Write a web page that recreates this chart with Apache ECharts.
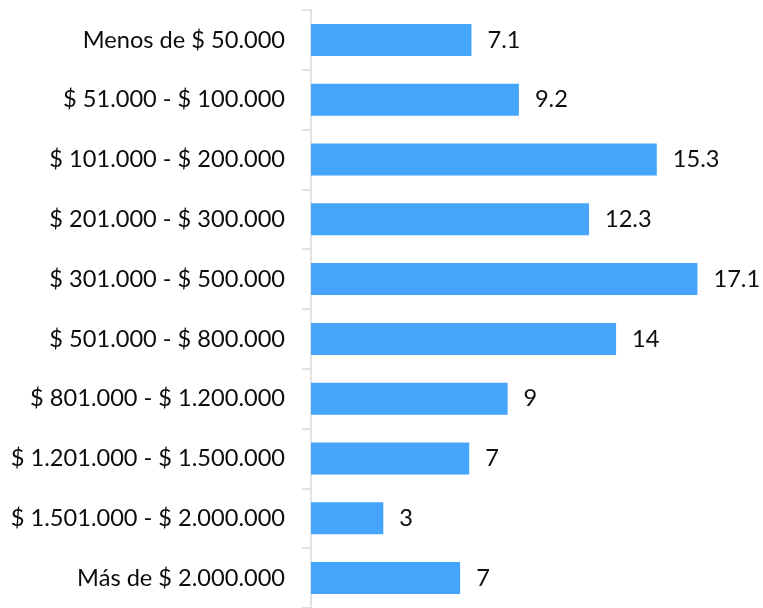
<!DOCTYPE html>
<html>
<head>
<meta charset="utf-8">
<script src="https://cdn.jsdelivr.net/npm/echarts@6/dist/echarts.min.js"></script>
<style>
  html, body { margin: 0; padding: 0; background: #fff; }
  #chart { width: 763px; height: 608px; }
</style>
</head>
<body>
<div id="chart"></div>
<script>
// categorias, de arriba hacia abajo
var categories = [
  'Menos de $ 50.000',
  '$ 51.000 - $ 100.000',
  '$ 101.000 - $ 200.000',
  '$ 201.000 - $ 300.000',
  '$ 301.000 - $ 500.000',
  '$ 501.000 - $ 800.000',
  '$ 801.000 - $ 1.200.000',
  '$ 1.201.000 - $ 1.500.000',
  '$ 1.501.000 - $ 2.000.000',
  'Más de $ 2.000.000'
];
// largo de las barras
var values = [7.1, 9.2, 15.3, 12.3, 17.1, 13.5, 8.7, 7.0, 3.2, 6.6];
// etiquetas mostradas junto a cada barra
var valueLabels = ['7.1', '9.2', '15.3', '12.3', '17.1', '14', '9', '7', '3', '7'];

var font = 'Lato, "Open Sans", sans-serif';

var myChart = echarts.init(document.getElementById('chart'), null, { renderer: 'canvas' });
myChart.setOption({
  animation: false,
  grid: { left: 311, right: 0, top: 10, bottom: -2, containLabel: false },
  xAxis: {
    type: 'value',
    min: 0,
    max: 20,
    show: false
  },
  yAxis: {
    type: 'category',
    inverse: true,
    data: categories,
    axisLine: { show: true, lineStyle: { color: '#d9d9d9', width: 1.5 } },
    axisTick: { show: true, length: 9, lineStyle: { color: '#d9d9d9', width: 1.5 } },
    axisLabel: {
      margin: 26,
      fontFamily: font,
      fontSize: 23.6,
      color: '#0d0d0d'
    }
  },
  series: [{
    type: 'bar',
    data: values,
    barWidth: 32,
    itemStyle: { color: '#45a5fb' },
    label: {
      show: true,
      position: 'right',
      distance: 16,
      fontFamily: font,
      fontSize: 23.6,
      color: '#0d0d0d',
      formatter: function (p) { return valueLabels[p.dataIndex]; }
    }
  }]
});
</script>
</body>
</html>
